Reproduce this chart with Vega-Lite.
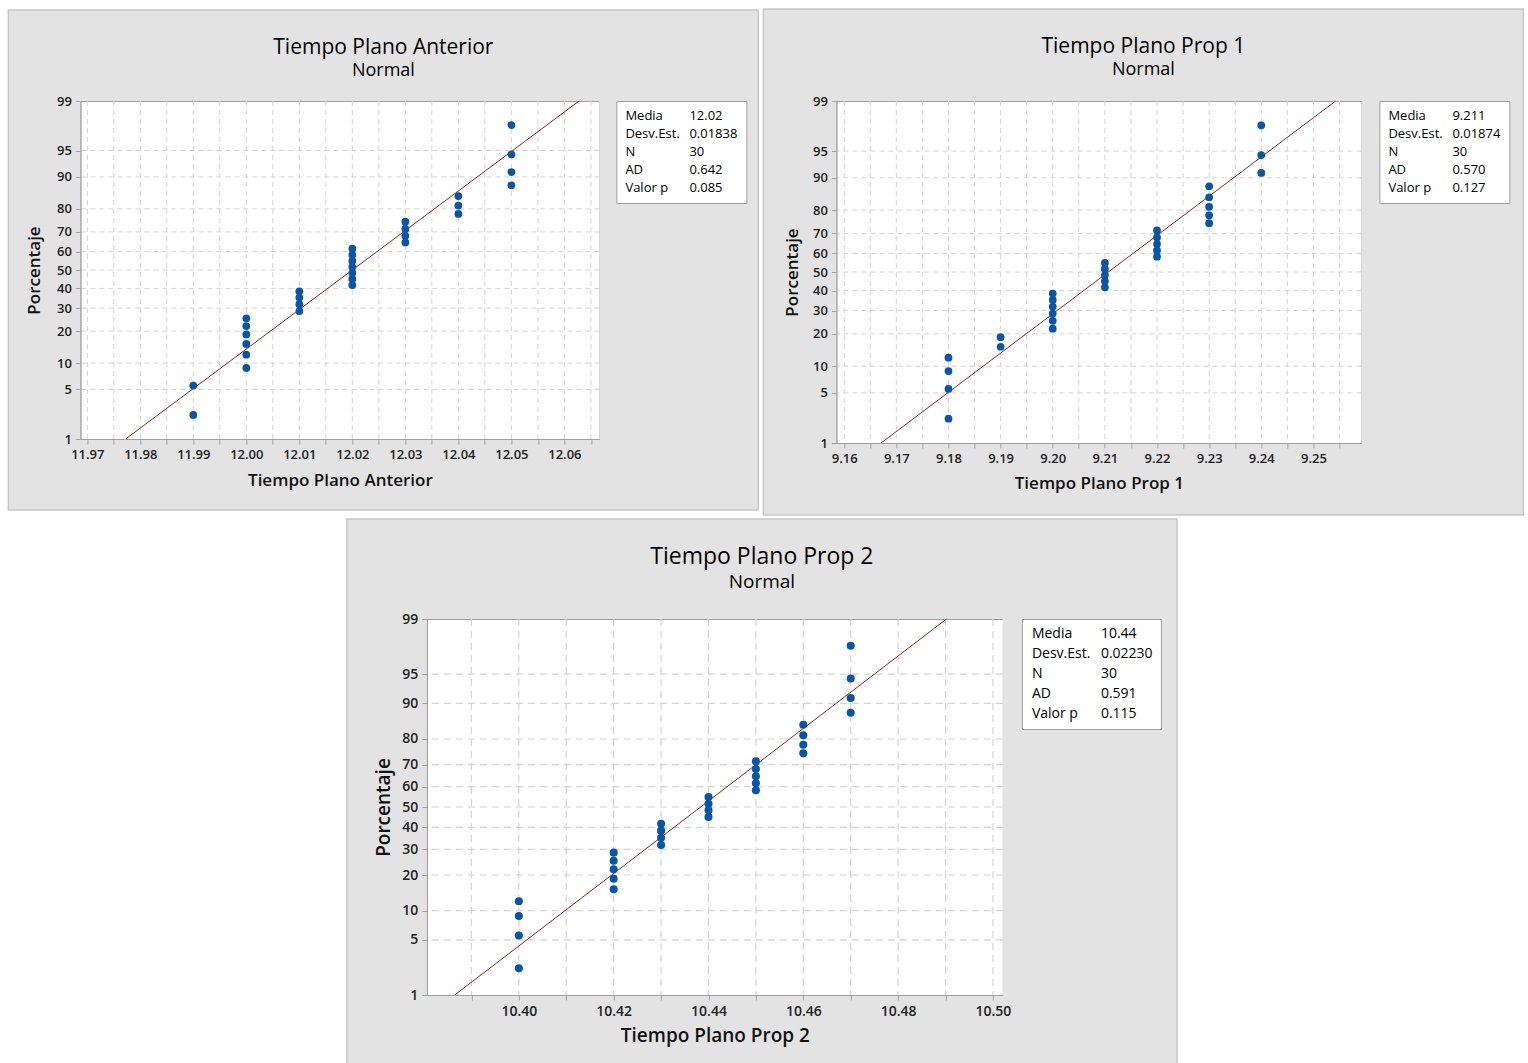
{
  "$schema": "https://vega.github.io/schema/vega-lite/v6.json",
  "padding": {"left": 7, "top": 7, "right": 0, "bottom": 0},
  "background": "white",
  "config": {
    "font": "Open Sans",
    "view": {"fill": "white", "stroke": "#a0a0a0", "strokeWidth": 1},
    "axis": {
      "domainColor": "#a0a0a0",
      "domainWidth": 1,
      "tickColor": "#a0a0a0",
      "tickSize": 5,
      "labelFont": "Open Sans",
      "labelFontSize": 13,
      "labelFontWeight": 600,
      "labelColor": "#222222",
      "labelPadding": 4,
      "labelFlush": false,
      "labelOverlap": false,
      "titleFont": "Open Sans",
      "titleFontSize": 17,
      "titleFontWeight": 600,
      "titleColor": "#111111",
      "titlePadding": 8
    },
    "title": {
      "font": "Open Sans",
      "fontSize": 21,
      "fontWeight": "normal",
      "color": "black",
      "subtitleFont": "Open Sans",
      "subtitleFontSize": 18,
      "subtitleColor": "black",
      "subtitlePadding": 4,
      "anchor": "middle",
      "frame": "bounds"
    },
    "legend": {
      "orient": "right",
      "offset": 17,
      "strokeColor": "#a0a0a0",
      "fillColor": "white",
      "padding": 8,
      "columns": 2,
      "columnPadding": 8,
      "rowPadding": 4,
      "symbolSize": 1,
      "symbolStrokeWidth": 0,
      "labelOffset": -12,
      "labelFont": "Open Sans",
      "labelFontSize": 13,
      "labelColor": "black"
    }
  },
  "datasets": {
    "p1": [
      {"tiempo": 11.99, "z": -1.995}, {"tiempo": 11.99, "z": -1.590},
      {"tiempo": 12.00, "z": -1.348}, {"tiempo": 12.00, "z": -1.1665}, {"tiempo": 12.00, "z": -1.0169},
      {"tiempo": 12.00, "z": -0.8871}, {"tiempo": 12.00, "z": -0.7709}, {"tiempo": 12.00, "z": -0.6642},
      {"tiempo": 12.01, "z": -0.5646}, {"tiempo": 12.01, "z": -0.4703}, {"tiempo": 12.01, "z": -0.3800}, {"tiempo": 12.01, "z": -0.2927},
      {"tiempo": 12.02, "z": -0.2076}, {"tiempo": 12.02, "z": -0.1240}, {"tiempo": 12.02, "z": -0.0412}, {"tiempo": 12.02, "z": 0.0412},
      {"tiempo": 12.02, "z": 0.1240}, {"tiempo": 12.02, "z": 0.2076}, {"tiempo": 12.02, "z": 0.2927},
      {"tiempo": 12.03, "z": 0.3800}, {"tiempo": 12.03, "z": 0.4703}, {"tiempo": 12.03, "z": 0.5646}, {"tiempo": 12.03, "z": 0.6642},
      {"tiempo": 12.04, "z": 0.7709}, {"tiempo": 12.04, "z": 0.8871}, {"tiempo": 12.04, "z": 1.0169},
      {"tiempo": 12.05, "z": 1.1665}, {"tiempo": 12.05, "z": 1.348}, {"tiempo": 12.05, "z": 1.590}, {"tiempo": 12.05, "z": 1.995}
    ],
    "p2": [
      {"tiempo": 9.18, "z": -1.995}, {"tiempo": 9.18, "z": -1.590}, {"tiempo": 9.18, "z": -1.348}, {"tiempo": 9.18, "z": -1.1665},
      {"tiempo": 9.19, "z": -1.0169}, {"tiempo": 9.19, "z": -0.8871},
      {"tiempo": 9.20, "z": -0.7709}, {"tiempo": 9.20, "z": -0.6642}, {"tiempo": 9.20, "z": -0.5646}, {"tiempo": 9.20, "z": -0.4703},
      {"tiempo": 9.20, "z": -0.3800}, {"tiempo": 9.20, "z": -0.2927},
      {"tiempo": 9.21, "z": -0.2076}, {"tiempo": 9.21, "z": -0.1240}, {"tiempo": 9.21, "z": -0.0412}, {"tiempo": 9.21, "z": 0.0412}, {"tiempo": 9.21, "z": 0.1240},
      {"tiempo": 9.22, "z": 0.2076}, {"tiempo": 9.22, "z": 0.2927}, {"tiempo": 9.22, "z": 0.3800}, {"tiempo": 9.22, "z": 0.4703}, {"tiempo": 9.22, "z": 0.5646},
      {"tiempo": 9.23, "z": 0.6642}, {"tiempo": 9.23, "z": 0.7709}, {"tiempo": 9.23, "z": 0.8871}, {"tiempo": 9.23, "z": 1.0169}, {"tiempo": 9.23, "z": 1.1665},
      {"tiempo": 9.24, "z": 1.348}, {"tiempo": 9.24, "z": 1.590}, {"tiempo": 9.24, "z": 1.995}
    ],
    "p3": [
      {"tiempo": 10.40, "z": -1.995}, {"tiempo": 10.40, "z": -1.590}, {"tiempo": 10.40, "z": -1.348}, {"tiempo": 10.40, "z": -1.1665},
      {"tiempo": 10.42, "z": -1.0169}, {"tiempo": 10.42, "z": -0.8871}, {"tiempo": 10.42, "z": -0.7709}, {"tiempo": 10.42, "z": -0.6642}, {"tiempo": 10.42, "z": -0.5646},
      {"tiempo": 10.43, "z": -0.4703}, {"tiempo": 10.43, "z": -0.3800}, {"tiempo": 10.43, "z": -0.2927}, {"tiempo": 10.43, "z": -0.2076},
      {"tiempo": 10.44, "z": -0.1240}, {"tiempo": 10.44, "z": -0.0412}, {"tiempo": 10.44, "z": 0.0412}, {"tiempo": 10.44, "z": 0.1240},
      {"tiempo": 10.45, "z": 0.2076}, {"tiempo": 10.45, "z": 0.2927}, {"tiempo": 10.45, "z": 0.3800}, {"tiempo": 10.45, "z": 0.4703}, {"tiempo": 10.45, "z": 0.5646},
      {"tiempo": 10.46, "z": 0.6642}, {"tiempo": 10.46, "z": 0.7709}, {"tiempo": 10.46, "z": 0.8871}, {"tiempo": 10.46, "z": 1.0169},
      {"tiempo": 10.47, "z": 1.1665}, {"tiempo": 10.47, "z": 1.348}, {"tiempo": 10.47, "z": 1.590}, {"tiempo": 10.47, "z": 1.995}
    ],
    "fit1": [{"tiempo": 11.977235, "z": -2.3263}, {"tiempo": 12.062765, "z": 2.3263}],
    "fit2": [{"tiempo": 9.167067, "z": -2.3263}, {"tiempo": 9.254267, "z": 2.3263}],
    "fit3": [{"tiempo": 10.386465, "z": -2.3263}, {"tiempo": 10.490201, "z": 2.3263}],
    "gx1": [{"v": 11.97}, {"v": 11.975}, {"v": 11.98}, {"v": 11.985}, {"v": 11.99}, {"v": 11.995}, {"v": 12.0}, {"v": 12.005}, {"v": 12.01}, {"v": 12.015}, {"v": 12.02}, {"v": 12.025}, {"v": 12.03}, {"v": 12.035}, {"v": 12.04}, {"v": 12.045}, {"v": 12.05}, {"v": 12.055}, {"v": 12.06}, {"v": 12.065}],
    "gx2": [{"v": 9.16}, {"v": 9.165}, {"v": 9.17}, {"v": 9.175}, {"v": 9.18}, {"v": 9.185}, {"v": 9.19}, {"v": 9.195}, {"v": 9.2}, {"v": 9.205}, {"v": 9.21}, {"v": 9.215}, {"v": 9.22}, {"v": 9.225}, {"v": 9.23}, {"v": 9.235}, {"v": 9.24}, {"v": 9.245}, {"v": 9.25}, {"v": 9.255}],
    "gx3": [{"v": 10.39}, {"v": 10.4}, {"v": 10.41}, {"v": 10.42}, {"v": 10.43}, {"v": 10.44}, {"v": 10.45}, {"v": 10.46}, {"v": 10.47}, {"v": 10.48}, {"v": 10.49}, {"v": 10.5}],
    "gy": [{"v": -1.6449}, {"v": -1.2816}, {"v": -0.8416}, {"v": -0.5244}, {"v": -0.2533}, {"v": 0}, {"v": 0.2533}, {"v": 0.5244}, {"v": 0.8416}, {"v": 1.2816}, {"v": 1.6449}],
    "s1": [{"stat": "Media"}, {"stat": "Desv.Est."}, {"stat": "N"}, {"stat": "AD"}, {"stat": "Valor p"}, {"stat": "12.02"}, {"stat": "0.01838"}, {"stat": "30"}, {"stat": "0.642"}, {"stat": "0.085"}],
    "s2": [{"stat": "Media"}, {"stat": "Desv.Est."}, {"stat": "N"}, {"stat": "AD"}, {"stat": "Valor p"}, {"stat": "9.211"}, {"stat": "0.01874"}, {"stat": "30"}, {"stat": "0.570"}, {"stat": "0.127"}],
    "s3": [{"stat": "Media"}, {"stat": "Desv.Est."}, {"stat": "N"}, {"stat": "AD"}, {"stat": "Valor p"}, {"stat": "10.44"}, {"stat": "0.02230"}, {"stat": "30"}, {"stat": "0.591"}, {"stat": "0.115"}]
  },
  "spacing": 0,
  "center": true,
  "resolve": {"scale": {"color": "independent"}},
  "vconcat": [
    {
      "spacing": 1,
      "resolve": {"scale": {"color": "independent"}},
      "hconcat": [
        {
          "width": 519,
          "height": 338,
          "title": {"text": "Tiempo Plano Anterior", "subtitle": "Normal", "offset": -71, "anchor": "middle", "frame": "bounds"},
          "layer": [
            {
              "data": {"values": [{}]},
              "mark": {"type": "rect", "fill": "#e3e3e3"},
              "encoding": {
                "x": {"datum": 11.95512, "type": "quantitative", "scale": {"domain": [11.9687, 12.0666], "nice": false, "zero": false}},
                "x2": {"datum": 12.09659},
                "y": {"datum": 3.57893, "type": "quantitative", "scale": {"domain": [-2.3263, 2.3263], "nice": false, "zero": false}},
                "y2": {"datum": 2.3263}
              }
            },
            {
              "data": {"values": [{}]},
              "mark": {"type": "rect", "fill": "#e3e3e3"},
              "encoding": {
                "x": {"datum": 11.95512, "type": "quantitative", "scale": {"domain": [11.9687, 12.0666], "nice": false, "zero": false}},
                "x2": {"datum": 12.09659},
                "y": {"datum": -2.3263, "type": "quantitative", "scale": {"domain": [-2.3263, 2.3263], "nice": false, "zero": false}},
                "y2": {"datum": -3.30363}
              }
            },
            {
              "data": {"values": [{}]},
              "mark": {"type": "rect", "fill": "#e3e3e3"},
              "encoding": {
                "x": {"datum": 11.95512, "type": "quantitative", "scale": {"domain": [11.9687, 12.0666], "nice": false, "zero": false}},
                "x2": {"datum": 11.9687},
                "y": {"datum": -2.3263, "type": "quantitative", "scale": {"domain": [-2.3263, 2.3263], "nice": false, "zero": false}},
                "y2": {"datum": 2.3263}
              }
            },
            {
              "data": {"values": [{}]},
              "mark": {"type": "rect", "fill": "#e3e3e3"},
              "encoding": {
                "x": {"datum": 12.0666, "type": "quantitative", "scale": {"domain": [11.9687, 12.0666], "nice": false, "zero": false}},
                "x2": {"datum": 12.09659},
                "y": {"datum": -2.3263, "type": "quantitative", "scale": {"domain": [-2.3263, 2.3263], "nice": false, "zero": false}},
                "y2": {"datum": 2.3263}
              }
            },
            {
              "data": {"values": [{}]},
              "mark": {"type": "rect", "fill": "transparent", "stroke": "#c6c6c6", "strokeWidth": 1.5},
              "encoding": {
                "x": {"datum": 11.95512, "type": "quantitative", "scale": {"domain": [11.9687, 12.0666], "nice": false, "zero": false}},
                "x2": {"datum": 12.09659},
                "y": {"datum": 3.57893, "type": "quantitative", "scale": {"domain": [-2.3263, 2.3263], "nice": false, "zero": false}},
                "y2": {"datum": -3.30363}
              }
            },
            {
              "data": {"name": "gx1"},
              "mark": {"type": "rule", "color": "#d4d4d4", "strokeDash": [5, 4], "strokeWidth": 1},
              "encoding": {
                "x": {"field": "v", "type": "quantitative", "scale": {"domain": [11.9687, 12.0666], "nice": false, "zero": false}}
              }
            },
            {
              "data": {"name": "gy"},
              "mark": {"type": "rule", "color": "#d4d4d4", "strokeDash": [5, 4], "strokeWidth": 1},
              "encoding": {
                "y": {"field": "v", "type": "quantitative", "scale": {"domain": [-2.3263, 2.3263], "nice": false, "zero": false}}
              }
            },
            {
              "data": {"name": "fit1"},
              "mark": {"type": "line", "color": "#a51c1c", "strokeWidth": 1},
              "encoding": {
                "x": {"field": "tiempo", "type": "quantitative", "scale": {"domain": [11.9687, 12.0666], "nice": false, "zero": false}},
                "y": {"field": "z", "type": "quantitative", "scale": {"domain": [-2.3263, 2.3263], "nice": false, "zero": false}}
              }
            },
            {
              "data": {"name": "p1"},
              "mark": {"type": "circle", "size": 60, "color": "#0a55a5", "opacity": 1},
              "encoding": {
                "x": {
                  "field": "tiempo", "type": "quantitative",
                  "scale": {"domain": [11.9687, 12.0666], "nice": false, "zero": false},
                  "axis": {
                    "zindex": 1,
                    "grid": false,
                    "tickCount": 100,
                    "title": "Tiempo Plano Anterior",
                    "titlePadding": 11,
                    "labelOverlap": false,
                    "values": [11.97, 11.975, 11.98, 11.985, 11.99, 11.995, 12.0, 12.005, 12.01, 12.015, 12.02, 12.025, 12.03, 12.035, 12.04, 12.045, 12.05, 12.055, 12.06, 12.065],
                    "labelExpr": "round(datum.value*200) % 2 == 0 ? format(datum.value, '.2f') : ''"
                  }
                },
                "y": {
                  "field": "z", "type": "quantitative",
                  "scale": {"domain": [-2.3263, 2.3263], "nice": false, "zero": false},
                  "axis": {
                    "zindex": 1,
                    "grid": false,
                    "tickCount": 100,
                    "title": "Porcentaje",
                    "titlePadding": 13,
                    "labelOverlap": false,
                    "values": [-2.3263, -1.6449, -1.2816, -0.8416, -0.5244, -0.2533, 0, 0.2533, 0.5244, 0.8416, 1.2816, 1.6449, 2.3263],
                    "labelExpr": "datum.value < -2 ? '1' : datum.value < -1.5 ? '5' : datum.value < -1 ? '10' : datum.value < -0.7 ? '20' : datum.value < -0.4 ? '30' : datum.value < -0.1 ? '40' : datum.value < 0.1 ? '50' : datum.value < 0.4 ? '60' : datum.value < 0.7 ? '70' : datum.value < 1 ? '80' : datum.value < 1.5 ? '90' : datum.value < 2 ? '95' : '99'"
                  }
                }
              }
            },
            {
              "data": {"name": "s1"},
              "mark": {"type": "point", "opacity": 0},
              "encoding": {
                "color": {"field": "stat", "type": "nominal", "sort": null, "legend": {"title": null}}
              }
            }
          ]
        },
        {
          "width": 525,
          "height": 342,
          "title": {"text": "Tiempo Plano Prop 1", "subtitle": "Normal", "offset": -71, "anchor": "middle", "frame": "bounds"},
          "layer": [
            {
              "data": {"values": [{}]},
              "mark": {"type": "rect", "fill": "#e3e3e3"},
              "encoding": {
                "x": {"datum": 9.1445, "type": "quantitative", "scale": {"domain": [9.1585, 9.2592], "nice": false, "zero": false}},
                "x2": {"datum": 9.29027},
                "y": {"datum": 3.57788, "type": "quantitative", "scale": {"domain": [-2.3263, 2.3263], "nice": false, "zero": false}},
                "y2": {"datum": 2.3263}
              }
            },
            {
              "data": {"values": [{}]},
              "mark": {"type": "rect", "fill": "#e3e3e3"},
              "encoding": {
                "x": {"datum": 9.1445, "type": "quantitative", "scale": {"domain": [9.1585, 9.2592], "nice": false, "zero": false}},
                "x2": {"datum": 9.29027},
                "y": {"datum": -2.3263, "type": "quantitative", "scale": {"domain": [-2.3263, 2.3263], "nice": false, "zero": false}},
                "y2": {"datum": -3.3058}
              }
            },
            {
              "data": {"values": [{}]},
              "mark": {"type": "rect", "fill": "#e3e3e3"},
              "encoding": {
                "x": {"datum": 9.1445, "type": "quantitative", "scale": {"domain": [9.1585, 9.2592], "nice": false, "zero": false}},
                "x2": {"datum": 9.1585},
                "y": {"datum": -2.3263, "type": "quantitative", "scale": {"domain": [-2.3263, 2.3263], "nice": false, "zero": false}},
                "y2": {"datum": 2.3263}
              }
            },
            {
              "data": {"values": [{}]},
              "mark": {"type": "rect", "fill": "#e3e3e3"},
              "encoding": {
                "x": {"datum": 9.2592, "type": "quantitative", "scale": {"domain": [9.1585, 9.2592], "nice": false, "zero": false}},
                "x2": {"datum": 9.29027},
                "y": {"datum": -2.3263, "type": "quantitative", "scale": {"domain": [-2.3263, 2.3263], "nice": false, "zero": false}},
                "y2": {"datum": 2.3263}
              }
            },
            {
              "data": {"values": [{}]},
              "mark": {"type": "rect", "fill": "transparent", "stroke": "#c6c6c6", "strokeWidth": 1.5},
              "encoding": {
                "x": {"datum": 9.1445, "type": "quantitative", "scale": {"domain": [9.1585, 9.2592], "nice": false, "zero": false}},
                "x2": {"datum": 9.29027},
                "y": {"datum": 3.57788, "type": "quantitative", "scale": {"domain": [-2.3263, 2.3263], "nice": false, "zero": false}},
                "y2": {"datum": -3.3058}
              }
            },
            {
              "data": {"name": "gx2"},
              "mark": {"type": "rule", "color": "#d4d4d4", "strokeDash": [5, 4], "strokeWidth": 1},
              "encoding": {
                "x": {"field": "v", "type": "quantitative", "scale": {"domain": [9.1585, 9.2592], "nice": false, "zero": false}}
              }
            },
            {
              "data": {"name": "gy"},
              "mark": {"type": "rule", "color": "#d4d4d4", "strokeDash": [5, 4], "strokeWidth": 1},
              "encoding": {
                "y": {"field": "v", "type": "quantitative", "scale": {"domain": [-2.3263, 2.3263], "nice": false, "zero": false}}
              }
            },
            {
              "data": {"name": "fit2"},
              "mark": {"type": "line", "color": "#a51c1c", "strokeWidth": 1},
              "encoding": {
                "x": {"field": "tiempo", "type": "quantitative", "scale": {"domain": [9.1585, 9.2592], "nice": false, "zero": false}},
                "y": {"field": "z", "type": "quantitative", "scale": {"domain": [-2.3263, 2.3263], "nice": false, "zero": false}}
              }
            },
            {
              "data": {"name": "p2"},
              "mark": {"type": "circle", "size": 60, "color": "#0a55a5", "opacity": 1},
              "encoding": {
                "x": {
                  "field": "tiempo", "type": "quantitative",
                  "scale": {"domain": [9.1585, 9.2592], "nice": false, "zero": false},
                  "axis": {
                    "zindex": 1,
                    "grid": false,
                    "tickCount": 100,
                    "title": "Tiempo Plano Prop 1",
                    "titlePadding": 10,
                    "labelOverlap": false,
                    "values": [9.16, 9.165, 9.17, 9.175, 9.18, 9.185, 9.19, 9.195, 9.2, 9.205, 9.21, 9.215, 9.22, 9.225, 9.23, 9.235, 9.24, 9.245, 9.25, 9.255],
                    "labelExpr": "round(datum.value*200) % 2 == 0 ? format(datum.value, '.2f') : ''"
                  }
                },
                "y": {
                  "field": "z", "type": "quantitative",
                  "scale": {"domain": [-2.3263, 2.3263], "nice": false, "zero": false},
                  "axis": {
                    "zindex": 1,
                    "grid": false,
                    "tickCount": 100,
                    "title": "Porcentaje",
                    "titlePadding": 11,
                    "labelOverlap": false,
                    "values": [-2.3263, -1.6449, -1.2816, -0.8416, -0.5244, -0.2533, 0, 0.2533, 0.5244, 0.8416, 1.2816, 1.6449, 2.3263],
                    "labelExpr": "datum.value < -2 ? '1' : datum.value < -1.5 ? '5' : datum.value < -1 ? '10' : datum.value < -0.7 ? '20' : datum.value < -0.4 ? '30' : datum.value < -0.1 ? '40' : datum.value < 0.1 ? '50' : datum.value < 0.4 ? '60' : datum.value < 0.7 ? '70' : datum.value < 1 ? '80' : datum.value < 1.5 ? '90' : datum.value < 2 ? '95' : '99'"
                  }
                }
              }
            },
            {
              "data": {"name": "s2"},
              "mark": {"type": "point", "opacity": 0},
              "encoding": {
                "color": {"field": "stat", "type": "nominal", "sort": null, "legend": {"title": null, "offset": 18}}
              }
            }
          ]
        }
      ]
    },
    {
      "width": 576,
      "height": 376,
      "title": {"text": "Tiempo Plano Prop 2", "subtitle": "Normal", "offset": -74, "anchor": "middle", "frame": "bounds", "fontSize": 23, "subtitleFontSize": 19},
      "layer": [
        {
          "data": {"values": [{}]},
          "mark": {"type": "rect", "fill": "#e3e3e3"},
          "encoding": {
            "x": {"datum": 10.36373, "type": "quantitative", "scale": {"domain": [10.3806, 10.5021], "nice": false, "zero": false}},
            "x2": {"datum": 10.5388},
            "y": {"datum": 3.5637, "type": "quantitative", "scale": {"domain": [-2.3263, 2.3263], "nice": false, "zero": false}},
            "y2": {"datum": 2.3263}
          }
        },
        {
          "data": {"values": [{}]},
          "mark": {"type": "rect", "fill": "#e3e3e3"},
          "encoding": {
            "x": {"datum": 10.36373, "type": "quantitative", "scale": {"domain": [10.3806, 10.5021], "nice": false, "zero": false}},
            "x2": {"datum": 10.5388},
            "y": {"datum": -2.3263, "type": "quantitative", "scale": {"domain": [-2.3263, 2.3263], "nice": false, "zero": false}},
            "y2": {"datum": -3.2296}
          }
        },
        {
          "data": {"values": [{}]},
          "mark": {"type": "rect", "fill": "#e3e3e3"},
          "encoding": {
            "x": {"datum": 10.36373, "type": "quantitative", "scale": {"domain": [10.3806, 10.5021], "nice": false, "zero": false}},
            "x2": {"datum": 10.3806},
            "y": {"datum": -2.3263, "type": "quantitative", "scale": {"domain": [-2.3263, 2.3263], "nice": false, "zero": false}},
            "y2": {"datum": 2.3263}
          }
        },
        {
          "data": {"values": [{}]},
          "mark": {"type": "rect", "fill": "#e3e3e3"},
          "encoding": {
            "x": {"datum": 10.5021, "type": "quantitative", "scale": {"domain": [10.3806, 10.5021], "nice": false, "zero": false}},
            "x2": {"datum": 10.5388},
            "y": {"datum": -2.3263, "type": "quantitative", "scale": {"domain": [-2.3263, 2.3263], "nice": false, "zero": false}},
            "y2": {"datum": 2.3263}
          }
        },
        {
          "data": {"values": [{}]},
          "mark": {"type": "rect", "fill": "transparent", "stroke": "#c6c6c6", "strokeWidth": 1.5},
          "encoding": {
            "x": {"datum": 10.36373, "type": "quantitative", "scale": {"domain": [10.3806, 10.5021], "nice": false, "zero": false}},
            "x2": {"datum": 10.5388},
            "y": {"datum": 3.5637, "type": "quantitative", "scale": {"domain": [-2.3263, 2.3263], "nice": false, "zero": false}},
            "y2": {"datum": -3.2296}
          }
        },
        {
          "data": {"name": "gx3"},
          "mark": {"type": "rule", "color": "#d4d4d4", "strokeDash": [7, 5], "strokeWidth": 1.2},
          "encoding": {
            "x": {"field": "v", "type": "quantitative", "scale": {"domain": [10.3806, 10.5021], "nice": false, "zero": false}}
          }
        },
        {
          "data": {"name": "gy"},
          "mark": {"type": "rule", "color": "#d4d4d4", "strokeDash": [7, 5], "strokeWidth": 1.2},
          "encoding": {
            "y": {"field": "v", "type": "quantitative", "scale": {"domain": [-2.3263, 2.3263], "nice": false, "zero": false}}
          }
        },
        {
          "data": {"name": "fit3"},
          "mark": {"type": "line", "color": "#a51c1c", "strokeWidth": 1},
          "encoding": {
            "x": {"field": "tiempo", "type": "quantitative", "scale": {"domain": [10.3806, 10.5021], "nice": false, "zero": false}},
            "y": {"field": "z", "type": "quantitative", "scale": {"domain": [-2.3263, 2.3263], "nice": false, "zero": false}}
          }
        },
        {
          "data": {"name": "p3"},
          "mark": {"type": "circle", "size": 65, "color": "#0a55a5", "opacity": 1},
          "encoding": {
            "x": {
              "field": "tiempo", "type": "quantitative",
              "scale": {"domain": [10.3806, 10.5021], "nice": false, "zero": false},
              "axis": {
                "zindex": 1,
                "grid": false,
                "tickCount": 100,
                "title": "Tiempo Plano Prop 2",
                "titleFontSize": 19,
                "labelFontSize": 14,
                "labelOverlap": false,
                "values": [10.39, 10.4, 10.41, 10.42, 10.43, 10.44, 10.45, 10.46, 10.47, 10.48, 10.49, 10.5],
                "labelExpr": "round(datum.value*100) % 2 == 0 ? format(datum.value, '.2f') : ''"
              }
            },
            "y": {
              "field": "z", "type": "quantitative",
              "scale": {"domain": [-2.3263, 2.3263], "nice": false, "zero": false},
              "axis": {
                "zindex": 1,
                "grid": false,
                "tickCount": 100,
                "title": "Porcentaje",
                "titleFontSize": 19,
                "labelFontSize": 14,
                "labelOverlap": false,
                "values": [-2.3263, -1.6449, -1.2816, -0.8416, -0.5244, -0.2533, 0, 0.2533, 0.5244, 0.8416, 1.2816, 1.6449, 2.3263],
                "labelExpr": "datum.value < -2 ? '1' : datum.value < -1.5 ? '5' : datum.value < -1 ? '10' : datum.value < -0.7 ? '20' : datum.value < -0.4 ? '30' : datum.value < -0.1 ? '40' : datum.value < 0.1 ? '50' : datum.value < 0.4 ? '60' : datum.value < 0.7 ? '70' : datum.value < 1 ? '80' : datum.value < 1.5 ? '90' : datum.value < 2 ? '95' : '99'"
              }
            }
          }
        },
        {
          "data": {"name": "s3"},
          "mark": {"type": "point", "opacity": 0},
          "encoding": {
            "color": {"field": "stat", "type": "nominal", "sort": null, "legend": {"title": null, "offset": 19, "labelFontSize": 14, "rowPadding": 6}}
          }
        }
      ]
    }
  ]
}
